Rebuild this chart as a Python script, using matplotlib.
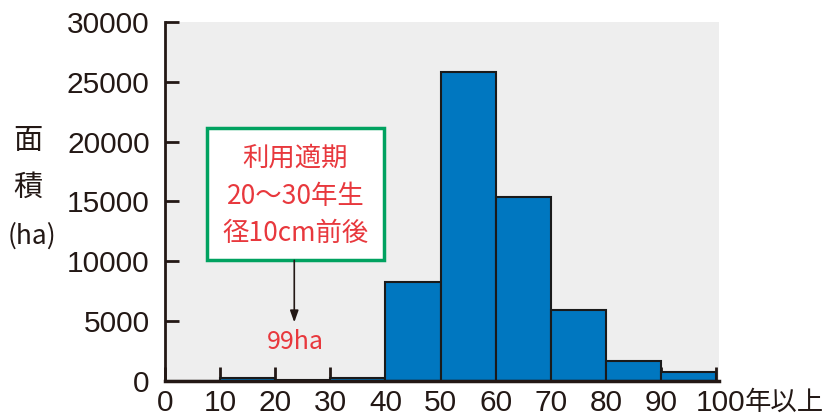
import matplotlib
matplotlib.use("Agg")
import matplotlib.pyplot as plt
from matplotlib.patches import Rectangle

# 林齢級 (年) ごとの面積 (ha)
age_left = [0, 10, 20, 30, 40, 50, 60, 70, 80, 90]
area = [0, 250, 99, 280, 8250, 25850, 15350, 5950, 1650, 750]
xtick_vals = [0, 10, 20, 30, 40, 50, 60, 70, 80, 90]
ytick_vals = [0, 5000, 10000, 15000, 20000, 25000, 30000]

num_font = 'Liberation Sans'
jp = 'Noto Sans CJK JP'
plt.rcParams['font.family'] = [num_font, jp, 'DejaVu Sans']
ink = '#231815'
red = '#e8383d'

fig = plt.figure(figsize=(8.28, 4.18), dpi=100)
ax = fig.add_axes([0.1993, 0.0885, 0.669, 0.8589])
ax.set_facecolor('#eeeeee')

ax.bar(age_left, area, width=10, align='edge', color='#0077c0',
       edgecolor='#1a1a1a', linewidth=1.5, zorder=2)

ax.set_xlim(0, 100.5)
ax.set_ylim(0, 30000)
ax.spines['top'].set_visible(False)
ax.spines['right'].set_visible(False)
ax.spines['left'].set_linewidth(2)
ax.spines['bottom'].set_linewidth(2.5)
ax.spines['left'].set_color(ink)
ax.spines['bottom'].set_color(ink)
ax.spines['bottom'].set_zorder(3)

ax.set_xticks(xtick_vals + [100])
ax.set_xticklabels([str(v) for v in xtick_vals] + [''])
ax.set_yticks(ytick_vals)
ax.set_yticklabels([str(v) for v in ytick_vals])
ax.tick_params(axis='both', direction='in', length=10, width=2,
               color=ink, labelsize=21.5, labelcolor=ink)
ax.tick_params(axis='y', pad=11)
ax.tick_params(axis='x', pad=5.5)
for t in ax.get_xticklines():
    t.set_zorder(4)

# last x label: "100年以上"
t100 = ax.text(96.2, 0, '100', transform=ax.get_xaxis_transform(),
               ha='left', va='top', fontsize=21.5, color=ink)
lab0 = ax.get_xticklabels()[0]
fig.canvas.draw()
bb = lab0.get_window_extent()
inv = ax.get_xaxis_transform().inverted()
t100.set_y(inv.transform((0, bb.y1))[1])
ax.annotate('年以上', xy=(1, 0.25), xycoords=t100, xytext=(0, 0),
            textcoords='offset points', ha='left', va='baseline',
            fontsize=19, color=ink, family=[jp], annotation_clip=False)

# y axis label
fig.text(0.034, 0.663, '面', fontsize=21, family=[jp], color=ink,
         ha='center', va='center')
fig.text(0.034, 0.550, '積', fontsize=21, family=[jp], color=ink,
         ha='center', va='center')
fig.text(0.039, 0.435, '(ha)', fontsize=19, family=[jp], color=ink,
         ha='center', va='center')

# annotation box
box = Rectangle((7.6, 10083), 32.1, 11084, facecolor='white',
                edgecolor='#00a260', linewidth=2.5, zorder=5)
ax.add_patch(box)
for i, line in enumerate(['利用適期', '20～30年生', '径10cm前後']):
    ax.text(23.65, 18583 - i * 3125, line, fontsize=19, color=red,
            family=[jp], ha='center', va='center', zorder=6)
ax.annotate('', xy=(23.45, 4900), xytext=(23.45, 10083),
            arrowprops=dict(arrowstyle='-|>,head_width=0.25,head_length=0.7',
                            color=ink, lw=1.2, shrinkA=0, shrinkB=0), zorder=6)
ax.text(23.65, 3250, '99ha', fontsize=18, color=red, family=[jp],
        ha='center', va='center', zorder=6)

fig.savefig('out.png', dpi=100)
